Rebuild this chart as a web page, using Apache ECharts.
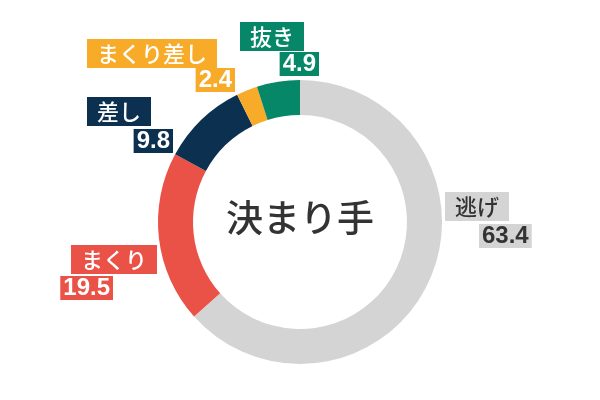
<!DOCTYPE html>
<html>
<head>
<meta charset="utf-8">
<script src="https://cdn.jsdelivr.net/npm/echarts@6/dist/echarts.min.js"></script>
<style>html,body{margin:0;padding:0;background:#fff}#c{width:600px;height:400px}</style>
</head>
<body>
<div id="c"></div>
<script>
// data
var names = ['逃げ', 'まくり', '差し', 'まくり差し', '抜き'];
var values = [63.4, 19.5, 9.8, 2.4, 4.9];
var centerTitle = '決まり手';

// styles
var colors = ['#d4d4d4', '#ea5248', '#0b3050', '#f8ab29', '#068868'];
var textColors = ['#333333', '#ffffff', '#ffffff', '#ffffff', '#ffffff'];
// label anchor layout: [x, y, align] (name label, value label)
var nameLayout = [[445, 192, 'left'], [157, 245, 'right'], [151, 97, 'right'], [217, 39, 'right'], [304, 22, 'right']];
var valueLayout = [[479, 224, 'left'], [113, 276, 'right'], [173, 129, 'right'], [235, 68, 'right'], [319, 52, 'right']];

var FONT = '"Noto Sans CJK JP", "Noto Sans", sans-serif';

function buildData(kind) {
  return names.map(function (n, i) {
    return {
      name: n,
      value: values[i],
      itemStyle: { color: kind === 'name' ? colors[i] : 'rgba(0,0,0,0)' },
      label: { backgroundColor: colors[i], color: textColors[i] }
    };
  });
}

function layoutFn(arr) {
  return function (p) {
    var L = arr[p.dataIndex];
    return { x: L[0], y: L[1], align: L[2], verticalAlign: 'top' };
  };
}

var chart = echarts.init(document.getElementById('c'), null, { renderer: 'canvas' });
chart.setOption({
  animation: false,
  graphic: [{
    type: 'text',
    left: 'center',
    top: 199,
    style: {
      text: centerTitle,
      fontSize: 37,
      fontFamily: FONT,
      fontWeight: 500,
      fill: '#333333'
    }
  }],
  series: [
    {
      type: 'pie',
      center: ['50%', 222],
      radius: [107, 142],
      startAngle: 90,
      clockwise: true,
      avoidLabelOverlap: false,
      silent: true,
      emphasis: { disabled: true },
      labelLine: { show: false },
      label: {
        show: true,
        position: 'outside',
        formatter: '{b}',
        fontSize: 22,
        lineHeight: 23,
        fontFamily: FONT,
        fontWeight: 500,
        padding: [3, 10, 3, 10]
      },
      labelLayout: layoutFn(nameLayout),
      data: buildData('name')
    },
    {
      type: 'pie',
      center: ['50%', 222],
      radius: [107, 142],
      startAngle: 90,
      clockwise: true,
      avoidLabelOverlap: false,
      silent: true,
      emphasis: { disabled: true },
      labelLine: { show: false },
      label: {
        show: true,
        position: 'outside',
        formatter: '{c}',
        fontSize: 24,
        lineHeight: 24,
        fontWeight: 'bold',
        fontFamily: '"Liberation Sans", Arial, sans-serif',
        padding: [0, 3, 0, 3]
      },
      labelLayout: layoutFn(valueLayout),
      data: buildData('value')
    }
  ]
});
</script>
</body>
</html>
